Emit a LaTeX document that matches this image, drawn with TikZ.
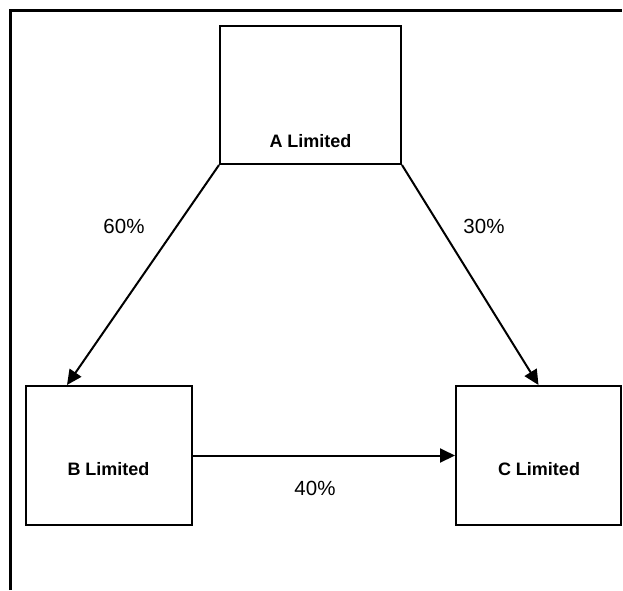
\documentclass[tikz,border=0pt]{standalone}
\usepackage{fontspec}
\setmainfont{Liberation Sans}
\usetikzlibrary{arrows.meta,calc}
\begin{document}
\begin{tikzpicture}[x=1pt,y=-1pt,
  box/.style={draw=black,line width=2pt,minimum width=#1,inner sep=0pt},
  boxlbl/.style={font=\fontsize{18}{20}\selectfont\bfseries,inner sep=0pt},
  pct/.style={font=\fontsize{20.5}{22}\selectfont,inner sep=0pt},
  link/.style={line width=2pt,-{Triangle[length=15pt,width=14pt]}},
  frame/.style={line width=3pt}]
\useasboundingbox (0,0) rectangle (623,590);
\coordinate (f1) at (10,590);
\coordinate (f2) at (10,10);
\coordinate (f3) at (622,10);
\draw[frame] (f1) -- (f2) -- (f3);
\node[box=181pt,minimum height=138pt] (A) at (310.5,95) {};
\node[box=166pt,minimum height=139pt] (B) at (109,455.5) {};
\node[box=165pt,minimum height=139pt] (C) at (538.5,455.5) {};
\node[boxlbl] (At) at (310.5,141) {A Limited};
\node[boxlbl] (Bt) at (108.5,469) {B Limited};
\node[boxlbl] (Ct) at (539,469) {C Limited};
\coordinate (Bin) at ($(B.north west)+(42,0)$);
\coordinate (Cin) at (C.north);
\draw[link] (A.south west) -- (Bin);
\draw[link] (A.south east) -- (Cin);
\draw[link] (B.east) -- (C.west);
\node[pct] (p60) at (124,226) {60\%};
\node[pct] (p30) at (484,226) {30\%};
\node[pct] (p40) at (315,488) {40\%};
\end{tikzpicture}
\end{document}
